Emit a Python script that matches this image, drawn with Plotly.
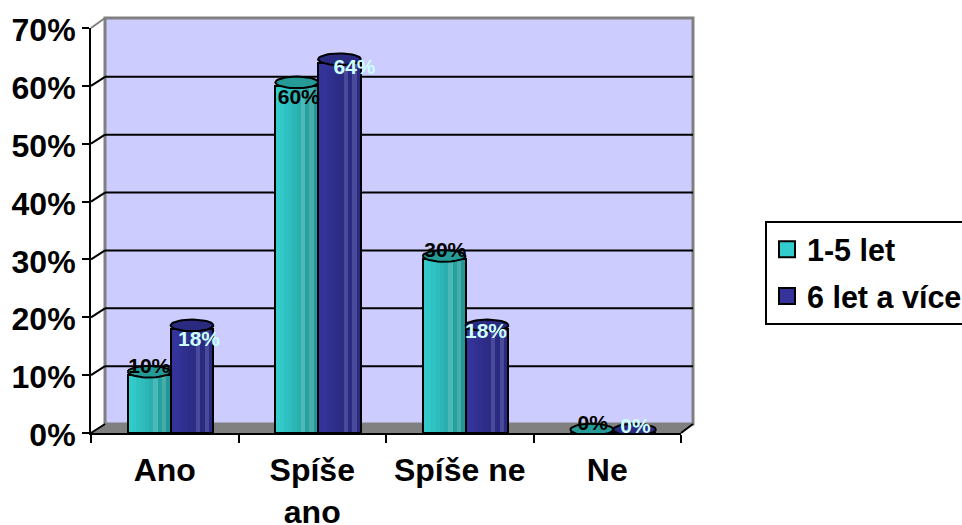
import math
import plotly.graph_objects as go

categories = ["Ano", "Spíše<br>ano", "Spíše ne", "Ne"]
series_a_name = "1-5 let"
series_b_name = "6 let a více"
series_a = [10, 60, 30, 0]
series_b = [18, 64, 18, 0]
y_ticks = [0, 10, 20, 30, 40, 50, 60, 70]

teal_shades = ["#33CCCC", "#31C8C8", "#30C2C2", "#2EBCBC", "#2CB6B6", "#2AAEAE", "#4DB8B8", "#27A0A0", "#46ACAC", "#259696"]
navy_shades = ["#333399", "#333399", "#313194", "#2F2F8E", "#2D2D88", "#2C2C84", "#4A4A9C", "#2A2A80", "#4A4A9C", "#2A2A80"]

W, H = 962, 525
L, R, T, B = 91, 681, 28, 433
DX, DY = 14, 9
PX_X = (R - L) / 4
PX_Y = (B - T) / 70

def px(x):
    return (x - L) / (R - L)

def py(y):
    return (B - y) / (B - T)

shapes = []
def poly(points, fill, line=None, width=0):
    path = "M" + " L".join(f"{px(a):.5f},{py(b):.5f}" for a, b in points) + " Z"
    shapes.append(dict(type="path", xref="paper", yref="paper", path=path, fillcolor=fill,
                       line=dict(color=line or fill, width=width), layer="below"))
def seg(a, b, c, d, color, width):
    shapes.append(dict(type="line", xref="paper", yref="paper", x0=px(a), y0=py(b), x1=px(c), y1=py(d),
                       line=dict(color=color, width=width), layer="below"))

# wall, floor and gridlines of the pseudo 3D box
poly([(L + DX, T - 10), (693, T - 10), (693, B - DY), (L + DX, B - DY)], "#CCCCFF", "#808080", 3)
poly([(L, B), (L + DX, B - DY), (693, B - DY), (R, B)], "#808080", "#808080", 1)
seg(L, T, L + DX, T - 10, "#808080", 2)
for t in y_ticks[1:-1]:
    yy = B - t * PX_Y
    seg(L + DX, yy - DY, 693, yy - DY, "#000000", 2)
    seg(L, yy, L + DX, yy - DY, "#000000", 2)
seg(R, B, 693, B - DY, "#000000", 2)
seg(L, B, L + DX, B - DY, "#000000", 2)

fig = go.Figure()
group_offset = 0.04
half = 0.145
n = len(teal_shades)
centres = [i + 0.5 + group_offset for i in range(len(categories))]

def add_series(values, shades, top, side, name):
    x0 = [c + side * half for c in centres]
    sw = 2 * half / n
    for k, col in enumerate(shades):
        fig.add_trace(go.Bar(x=[c - half + sw * (k + 0.5) for c in x0], y=values, width=sw * 1.05,
                             marker=dict(color=col, line=dict(width=0)), showlegend=False, hoverinfo="skip"))
    fig.add_trace(go.Bar(x=x0, y=values, width=2 * half,
                         marker=dict(color="rgba(0,0,0,0)", line=dict(color="#000000", width=2)),
                         showlegend=False, hoverinfo="skip"))
    for c, v in zip(x0, values):
        pts = [j * 2 * math.pi / 40 for j in range(41)]
        fig.add_trace(go.Scatter(
            x=[c + half * math.cos(p) for p in pts],
            y=[v + 0.6 + 1.0 * math.sin(p) for p in pts],
            mode="lines", fill="toself", fillcolor=top, line=dict(color="#000000", width=2),
            showlegend=False, hoverinfo="skip", cliponaxis=False))

add_series(series_a, teal_shades, "#259A96", -1, series_a_name)
add_series(series_b, navy_shades, "#2A2A80", 1, series_b_name)

# data labels
label_dx_a = [0, 2, 1, 1]
label_dy_a = [7, -13, 8, 8]
label_dx_b = [7, 15, -1, 1]
label_dy_b = [-12, -6, -4, 5]

def add_labels(values, side, dxs, dys, color):
    xs = [c + side * half + d / PX_X for c, d in zip(centres, dxs)]
    ys = [v + d / PX_Y for v, d in zip(values, dys)]
    fig.add_trace(go.Scatter(x=xs, y=ys, mode="text", text=[f"{v}%" for v in values],
                             textposition="middle center", cliponaxis=False,
                             textfont=dict(family="Liberation Sans", size=21, color=color, weight="bold"),
                             showlegend=False, hoverinfo="skip"))

add_labels(series_a, -1, label_dx_a, label_dy_a, "#000000")
add_labels(series_b, 1, label_dx_b, label_dy_b, "#CCFFFF")

# legend items
fig.add_trace(go.Scatter(x=[None], y=[None], mode="markers", name=series_a_name, legendgroup="a",
                         marker=dict(symbol="square", size=16, color="#33CCCC", line=dict(color="#000000", width=2))))
fig.add_trace(go.Scatter(x=[None], y=[None], mode="markers", name=series_b_name, legendgroup="b",
                         marker=dict(symbol="square", size=16, color="#333399", line=dict(color="#000000", width=2))))

# category label axis overlaying the tick-mark axis
fig.add_trace(go.Scatter(x=[None], y=[None], xaxis="x2", showlegend=False, hoverinfo="skip"))

font = dict(family="Liberation Sans", size=32, color="#000000", weight="bold")
lfont = dict(family="Liberation Sans", size=30.5, color="#000000", weight="bold")
fig.update_layout(
    width=W, height=H, autosize=False,
    margin=dict(l=L, r=W - R, t=T, b=H - B, autoexpand=False),
    paper_bgcolor="#FFFFFF", plot_bgcolor="rgba(0,0,0,0)",
    barmode="overlay", bargap=0, shapes=shapes, font=font,
    xaxis=dict(range=[0, 4], tickvals=[0, 1, 2, 3, 4], ticktext=[""] * 5, ticks="outside", ticklen=8,
               tickwidth=2, tickcolor="#000000", showline=True, linecolor="#000000", linewidth=2,
               showgrid=False, zeroline=False),
    xaxis2=dict(range=[0, 4], overlaying="x", side="bottom", anchor="y",
                tickmode="array", tickvals=[i + 0.5 for i in range(len(categories))], ticktext=categories,
                tickangle=0, ticks="", showline=False, showgrid=False, zeroline=False, tickfont=font,
                ticklabelstandoff=15),
    yaxis=dict(range=[0, 70], tickvals=y_ticks, ticktext=[f"{t}%" for t in y_ticks], ticks="outside",
               ticklen=7, tickwidth=2, tickcolor="#000000", showline=True, linecolor="#000000", linewidth=2,
               showgrid=False, zeroline=False, tickfont=font, ticklabelshift=2),
    legend=dict(x=px(765), y=py(273), xanchor="left", yanchor="middle", bgcolor="#FFFFFF",
                bordercolor="#000000", borderwidth=2, font=lfont, tracegroupgap=4, itemwidth=30),
    showlegend=True,
)
fig.write_html("out.html", post_script="document.body.style.margin='0';", config=dict(displayModeBar=False))
